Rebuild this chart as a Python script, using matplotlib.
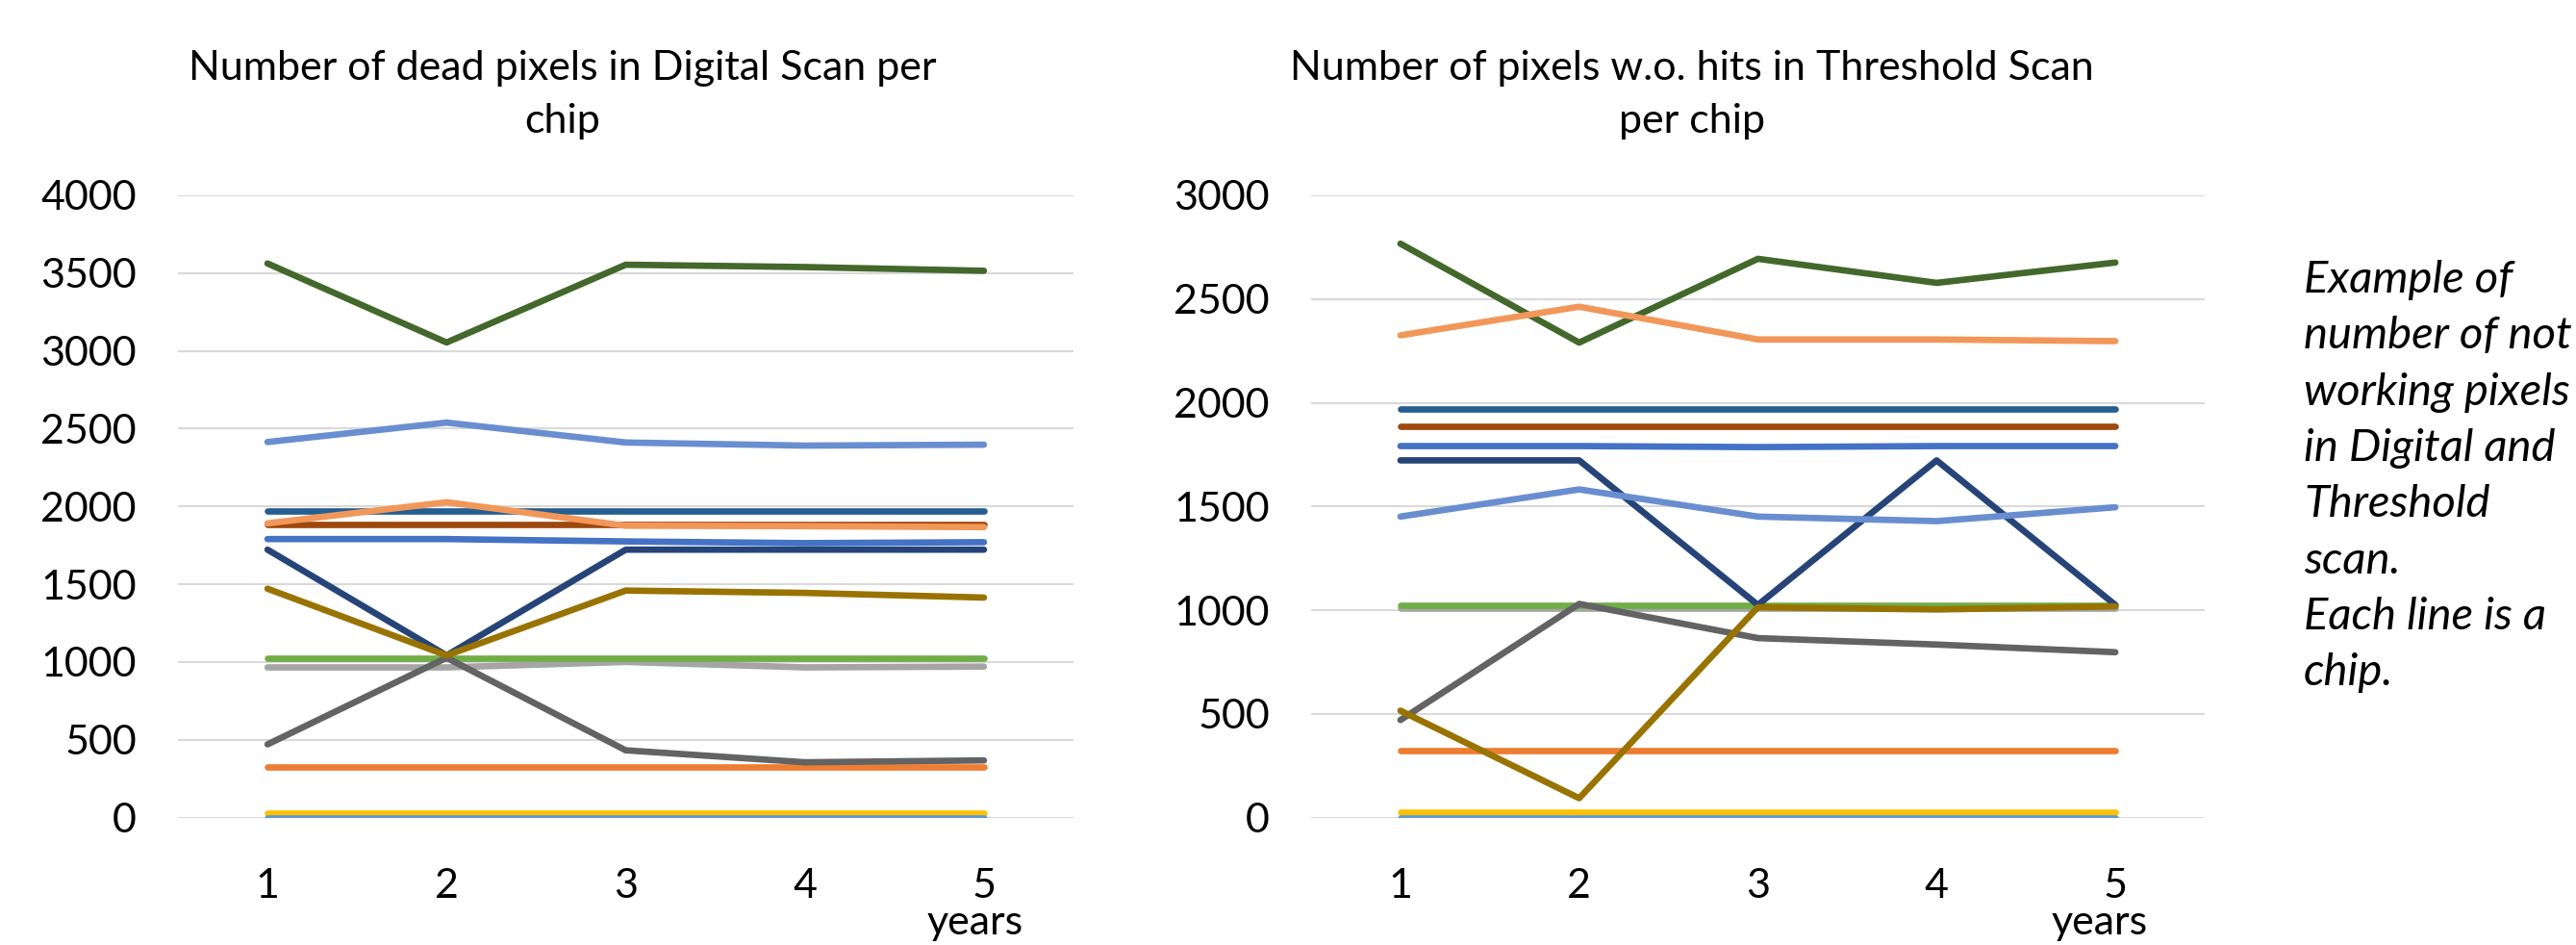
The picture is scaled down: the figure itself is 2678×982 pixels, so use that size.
import numpy as np
import matplotlib
matplotlib.use("Agg")
import matplotlib.pyplot as plt

plt.rcParams['font.family'] = ['Lato', 'DejaVu Sans']

# years on the x axis
years = [1, 2, 3, 4, 5]
year_labels = ["1", "2", "3", "4", "5"]

# Excel default palette, one colour per chip
chip_colors = ["#4472C4", "#ED7D31", "#A5A5A5", "#FFC000", "#5B9BD5", "#70AD47", "#264478",
               "#9E480E", "#636363", "#997300", "#255E91", "#43682B", "#698ED0", "#F1975A"]

# dead pixels in digital scan, chip 1..14
digital = [
    [1790, 1790, 1775, 1764, 1770],
    [325, 325, 325, 325, 325],
    [965, 965, 1000, 965, 970],
    [30, 30, 30, 30, 30],
    [0, 0, 0, 0, 0],
    [1024, 1024, 1024, 1024, 1024],
    [1722, 1042, 1722, 1722, 1722],
    [1882, 1882, 1882, 1882, 1882],
    [470, 1027, 432, 355, 367],
    [1471, 1042, 1459, 1444, 1414],
    [1968, 1968, 1968, 1968, 1968],
    [3562, 3054, 3554, 3539, 3515],
    [2414, 2539, 2411, 2391, 2397],
    [1891, 2027, 1876, 1873, 1867],
]

# pixels without hits in threshold scan, chip 1..14
threshold = [
    [1791, 1791, 1786, 1791, 1791],
    [324, 324, 324, 324, 324],
    [1007, 1007, 1007, 1007, 1007],
    [27, 27, 27, 27, 27],
    [0, 0, 0, 0, 0],
    [1021, 1021, 1021, 1021, 1021],
    [1722, 1722, 1025, 1722, 1025],
    [1886, 1886, 1886, 1886, 1886],
    [470, 1030, 865, 834, 797],
    [515, 93, 1014, 1003, 1018],
    [1970, 1970, 1970, 1970, 1970],
    [2767, 2290, 2694, 2578, 2676],
    [1451, 1582, 1451, 1429, 1496],
    [2325, 2463, 2305, 2305, 2297],
]

title_left = "Number of dead pixels in Digital Scan per\nchip"
title_right = "Number of pixels w.o. hits in Threshold Scan\nper chip"
side_note = ("Example of\nnumber of not\nworking pixels\nin Digital and\nThreshold\n"
             "scan.\nEach line is a\nchip.")

W, H = 2678, 982
fig = plt.figure(figsize=(W / 100, H / 100), dpi=100)


def px(x, y):
    return x / W, 1 - y / H


def make_panel(x0, x1, data, ymax, title, title_x, years_x):
    ax = fig.add_axes([x0 / W, 1 - 849.5 / H, (x1 - x0) / W, (849.5 - 203) / H])
    for vals, c in zip(data, chip_colors):
        ax.plot(years, vals, color=c, lw=4.8, solid_capstyle='round', solid_joinstyle='round')
    ax.set_xlim(0.5, 5.5)
    ax.set_ylim(0, ymax)
    ax.set_yticks(np.arange(0, ymax + 1, 500))
    ax.set_xticks(years)
    ax.set_xticklabels(year_labels)
    ax.grid(axis='y', color='#D9D9D9', lw=1.5)
    ax.set_axisbelow(True)
    for s in ax.spines.values():
        s.set_visible(False)
    ax.tick_params(length=0, labelsize=31)
    ax.tick_params(axis='x', pad=38)
    ax.tick_params(axis='y', pad=31)
    fig.text(*px(years_x, 971), "years", fontsize=31, ha='center', va='baseline')
    fig.text(*px(title_x, 52), title, ha='center', va='top', fontsize=31, linespacing=1.55)
    return ax


make_panel(185, 1116, digital, 4000, title_left, 585, 1014)
make_panel(1363, 2292, threshold, 3000, title_right, 1759, 2183)

fig.text(*px(2395, 270), side_note, ha='left', va='top', fontsize=34, style='italic',
         linespacing=1.48)

fig.savefig("out.png", dpi=100)
